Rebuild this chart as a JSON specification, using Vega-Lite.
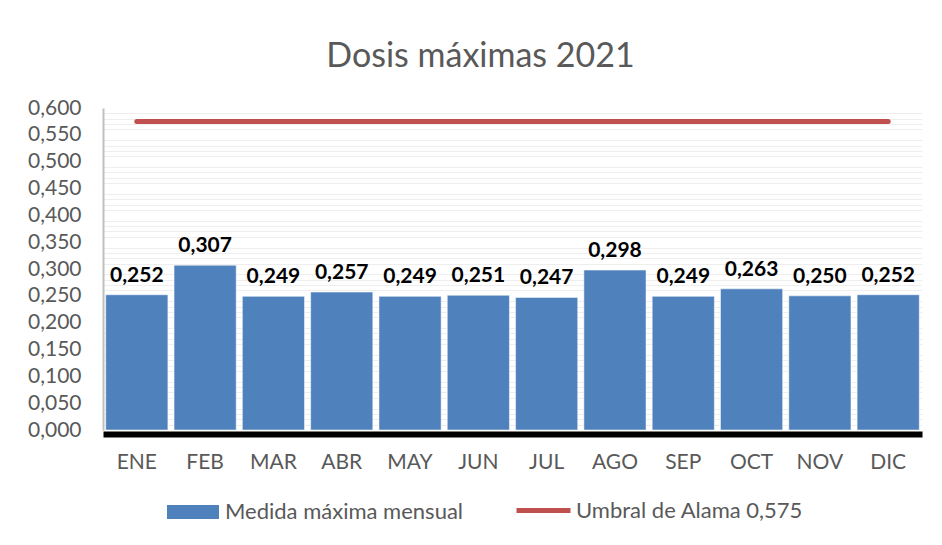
{
  "$schema": "https://vega.github.io/schema/vega-lite/v6.json",
  "autosize": "none",
  "width": 819,
  "height": 322,
  "padding": {"left": 103, "top": 108, "right": 20, "bottom": 115},
  "background": "white",
  "title": {"text": "Dosis máximas 2021", "fontSize": 34, "font": "Lato", "fontWeight": "normal", "color": "#595959", "offset": 23, "anchor": "middle", "dx": -32},
  "config": {
    "locale": {"number": {"decimal": ",", "thousands": ".", "grouping": [3], "currency": ["", " €"]}},
    "view": {"stroke": null},
    "font": "Lato",
    "legend": {"direction": "horizontal", "labelFontSize": 22, "labelColor": "#595959", "labelFont": "Lato", "title": null, "labelLimit": 400, "padding": 0, "labelOffset": 6}
  },
  "datasets": {
    "bars": [
      {"mes": "ENE", "valor": 0.252, "serie": "Medida máxima mensual"},
      {"mes": "FEB", "valor": 0.307, "serie": "Medida máxima mensual"},
      {"mes": "MAR", "valor": 0.249, "serie": "Medida máxima mensual"},
      {"mes": "ABR", "valor": 0.257, "serie": "Medida máxima mensual"},
      {"mes": "MAY", "valor": 0.249, "serie": "Medida máxima mensual"},
      {"mes": "JUN", "valor": 0.251, "serie": "Medida máxima mensual"},
      {"mes": "JUL", "valor": 0.247, "serie": "Medida máxima mensual"},
      {"mes": "AGO", "valor": 0.298, "serie": "Medida máxima mensual"},
      {"mes": "SEP", "valor": 0.249, "serie": "Medida máxima mensual"},
      {"mes": "OCT", "valor": 0.263, "serie": "Medida máxima mensual"},
      {"mes": "NOV", "valor": 0.250, "serie": "Medida máxima mensual"},
      {"mes": "DIC", "valor": 0.252, "serie": "Medida máxima mensual"}
    ],
    "umbral": [
      {"inicio": "ENE", "fin": "DIC", "valor": 0.575, "serie": "Umbral de Alama 0,575"}
    ]
  },
  "layer": [
    {
      "data": {"name": "bars"},
      "mark": {"type": "rule", "opacity": 0},
      "encoding": {
        "x": {"field": "mes", "type": "nominal", "sort": null,
              "scale": {"paddingInner": 0.09, "paddingOuter": 0.04},
              "axis": {"title": null, "labelAngle": 0, "labelFontSize": 21, "labelColor": "#595959", "labelFont": "Lato", "labelPadding": 17, "ticks": false, "domainColor": "#000000", "domainWidth": 6, "domainCap": "butt", "offset": 4}},
        "y": {"field": "valor", "type": "quantitative",
              "scale": {"domain": [0, 0.6], "nice": false},
              "axis": {"orient": "left", "title": null, "values": [0.01, 0.02, 0.03, 0.04, 0.06, 0.07, 0.08, 0.09, 0.11, 0.12, 0.13, 0.14, 0.16, 0.17, 0.18, 0.19, 0.21, 0.22, 0.23, 0.24, 0.26, 0.27, 0.28, 0.29, 0.31, 0.32, 0.33, 0.34, 0.36, 0.37, 0.38, 0.39, 0.41, 0.42, 0.43, 0.44, 0.46, 0.47, 0.48, 0.49, 0.51, 0.52, 0.53, 0.54, 0.56, 0.57, 0.58, 0.59], "labels": false, "ticks": false, "domain": false, "gridColor": "#eeeeee", "gridWidth": 1}}
      }
    },
    {
      "data": {"name": "bars"},
      "mark": {"type": "rule", "opacity": 0},
      "encoding": {
        "y": {"field": "valor", "type": "quantitative",
              "axis": {"orient": "left", "title": null, "values": [0, 0.05, 0.1, 0.15, 0.2, 0.25, 0.3, 0.35, 0.4, 0.45, 0.5, 0.55, 0.6], "format": ".3f", "labelFontSize": 21, "labelColor": "#595959", "labelFont": "Lato", "labelPadding": 22, "ticks": false, "domainColor": "#bfbfbf", "domainWidth": 2, "gridColor": "#d9d9d9", "gridWidth": 1.5}}
      }
    },
    {
      "data": {"name": "bars"},
      "mark": {"type": "bar", "stroke": "#ffffff", "strokeWidth": 0.5},
      "encoding": {
        "x": {"field": "mes", "type": "nominal", "sort": null},
        "y": {"field": "valor", "type": "quantitative", "axis": null},
        "fill": {"field": "serie", "type": "nominal", "scale": {"range": ["#4F81BD"]},
                 "legend": {"orient": "none", "legendX": 64, "legendY": 378, "symbolType": "M-1,-0.27H1V0.27H-1Z", "symbolSize": 2704, "symbolStrokeWidth": 0}}
      }
    },
    {
      "data": {"name": "bars"},
      "mark": {"type": "text", "baseline": "bottom", "dy": -9, "fontSize": 21, "fontWeight": "bold", "font": "Lato", "color": "#000000"},
      "encoding": {
        "x": {"field": "mes", "type": "nominal", "sort": null},
        "y": {"field": "valor", "type": "quantitative", "axis": null},
        "text": {"field": "valor", "type": "quantitative", "format": ".3f"}
      }
    },
    {
      "data": {"name": "umbral"},
      "mark": {"type": "rule", "strokeWidth": 5, "strokeCap": "round"},
      "encoding": {
        "x": {"field": "inicio", "type": "nominal", "sort": null},
        "x2": {"field": "fin"},
        "y": {"field": "valor", "type": "quantitative", "axis": null},
        "stroke": {"field": "serie", "type": "nominal", "scale": {"range": ["#C0504D"]},
                   "legend": {"orient": "none", "legendX": 411, "legendY": 373, "symbolType": "stroke", "symbolStrokeWidth": 5, "symbolSize": 2916, "labelOffset": 3}}
      }
    }
  ],
  "resolve": {"axis": {"y": "independent"}, "legend": {"fill": "independent", "stroke": "independent"}}
}
